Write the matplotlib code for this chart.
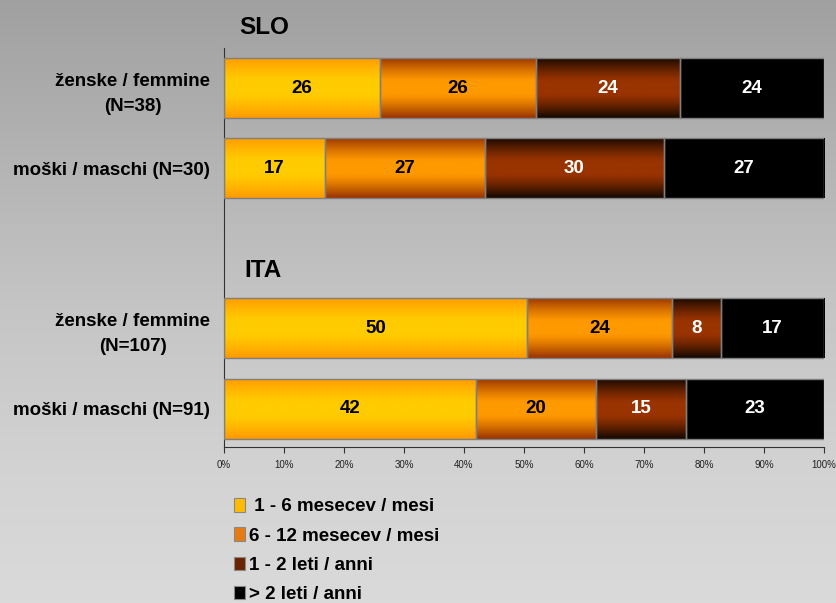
import numpy as np
import matplotlib
matplotlib.use("Agg")
import matplotlib.pyplot as plt
from matplotlib.patches import Patch
from matplotlib.colors import to_rgb

plt.rcParams['font.family'] = ['Liberation Sans', 'DejaVu Sans']

# ── data ──────────────────────────────────────────────────────────────────
categories = ["ženske / femmine\n(N=38)", "moški / maschi (N=30)", "",
              "ženske / femmine\n(N=107)", "moški / maschi (N=91)"]
series_names = [" 1 - 6 mesecev / mesi", "6 - 12 mesecev / mesi",
                "1 - 2 leti / anni", "> 2 leti / anni"]
v_1_6 = [26, 17, 0, 50, 42]
v_6_12 = [26, 27, 0, 24, 20]
v_1_2 = [24, 30, 0, 8, 15]
v_gt2 = [24, 27, 0, 17, 23]
group_titles = ["SLO", "ITA"]
xticks = [0, 10, 20, 30, 40, 50, 60, 70, 80, 90, 100]

values = np.array([v_1_6, v_6_12, v_1_2, v_gt2], dtype=float)
totals = values.sum(axis=0)
totals[totals == 0] = 1
pct = values / totals * 100

# gradient colours: (edge, centre) per series
grad_cols = [("#ff9900", "#ffcc00"),
             ("#993300", "#ff9900"),
             ("#140800", "#993300"),
             ("#000000", "#000000")]
txt_cols = ["black", "black", "white", "white"]
legend_cols = ["#ffbb00", "#e87a10", "#6a2200", "#000000"]


def gradient(edge, centre, n=80):
    u = np.linspace(0, 1, n)
    d = np.abs(u - 0.5) * 2
    w = np.clip((d - 0.2) / 0.8, 0, 1) ** 1.3
    e, c = np.array(to_rgb(edge)), np.array(to_rgb(centre))
    rows = c[None, :] + (e - c)[None, :] * w[:, None]
    return rows[:, None, :]


fig = plt.figure(figsize=(8.37, 6.03), dpi=100)

# background gradient
bg = fig.add_axes([0, 0, 1, 1], zorder=-10)
g = np.linspace(0, 1, 256)
shade = np.interp(g, [0, 0.5, 0.8, 1], [0.63, 0.77, 0.83, 0.855])
bg.imshow(np.repeat(shade[:, None], 3, axis=1)[:, None, :].repeat(2, axis=1),
          aspect='auto', extent=[0, 1, 0, 1], origin='upper')
bg.axis('off')

ax = fig.add_axes([0.2676, 0.2587, 0.7168, 0.6617])
ax.set_facecolor('none')

ypos = np.arange(len(categories))
left = np.zeros(len(categories))
for i in range(4):
    mask = values[i] > 0
    bars = ax.barh(ypos[mask], pct[i][mask], left=left[mask], height=0.75,
                   facecolor='none', edgecolor='#7f7f7f', linewidth=1.0, zorder=3)
    img = gradient(*grad_cols[i])
    for bar, v in zip(bars, values[i][mask]):
        x0, y0 = bar.get_x(), bar.get_y()
        w, h = bar.get_width(), bar.get_height()
        im = ax.imshow(img, extent=[x0, x0 + w, y0 + h, y0], aspect='auto',
                       zorder=2, interpolation='bilinear')
        im.set_clip_path(bar)
        ax.text(x0 + w / 2, y0 + h / 2, f"{v:.0f}", ha='center', va='center',
                color=txt_cols[i], fontsize=13.5, fontweight='bold', zorder=4)
    left[mask] += pct[i][mask]

ax.set_xlim(0, 100)
ax.set_ylim(4.48, -0.5)
ax.set_xticks(xticks)
ax.set_xticklabels([f"{t}%" for t in xticks], fontsize=7, color='#222222')
ax.tick_params(axis='x', length=4, width=0.8, color='#333333', pad=5)
ax.set_yticks(ypos)
ax.set_yticklabels(categories, fontsize=13.5, fontweight='bold')
for lab in ax.get_yticklabels():
    lab.set_multialignment('center')
    lab.set_linespacing(1.6)
ax.tick_params(axis='y', length=0, pad=10)
for s in ['top', 'right']:
    ax.spines[s].set_visible(False)
ax.spines['left'].set_color('#333333')
ax.spines['bottom'].set_color('#333333')

ax.text(2.6, -0.76, group_titles[0], fontsize=17.5, fontweight='bold',
        va='center', ha='left', clip_on=False)
ax.text(3.4, 2.28, group_titles[1], fontsize=17.5, fontweight='bold',
        va='center', ha='left', clip_on=False)

handles = [Patch(facecolor=c, edgecolor='#888888', linewidth=0.8) for c in legend_cols]
fig.legend(handles, series_names, loc='upper left',
           bbox_to_anchor=(0.279, 0.174), frameon=False,
           prop={'weight': 'bold', 'size': 13.5},
           handlelength=0.6, handleheight=0.75, handletextpad=0.25,
           labelspacing=0.63, borderpad=0, borderaxespad=0)

fig.savefig("out.png", dpi=100)
